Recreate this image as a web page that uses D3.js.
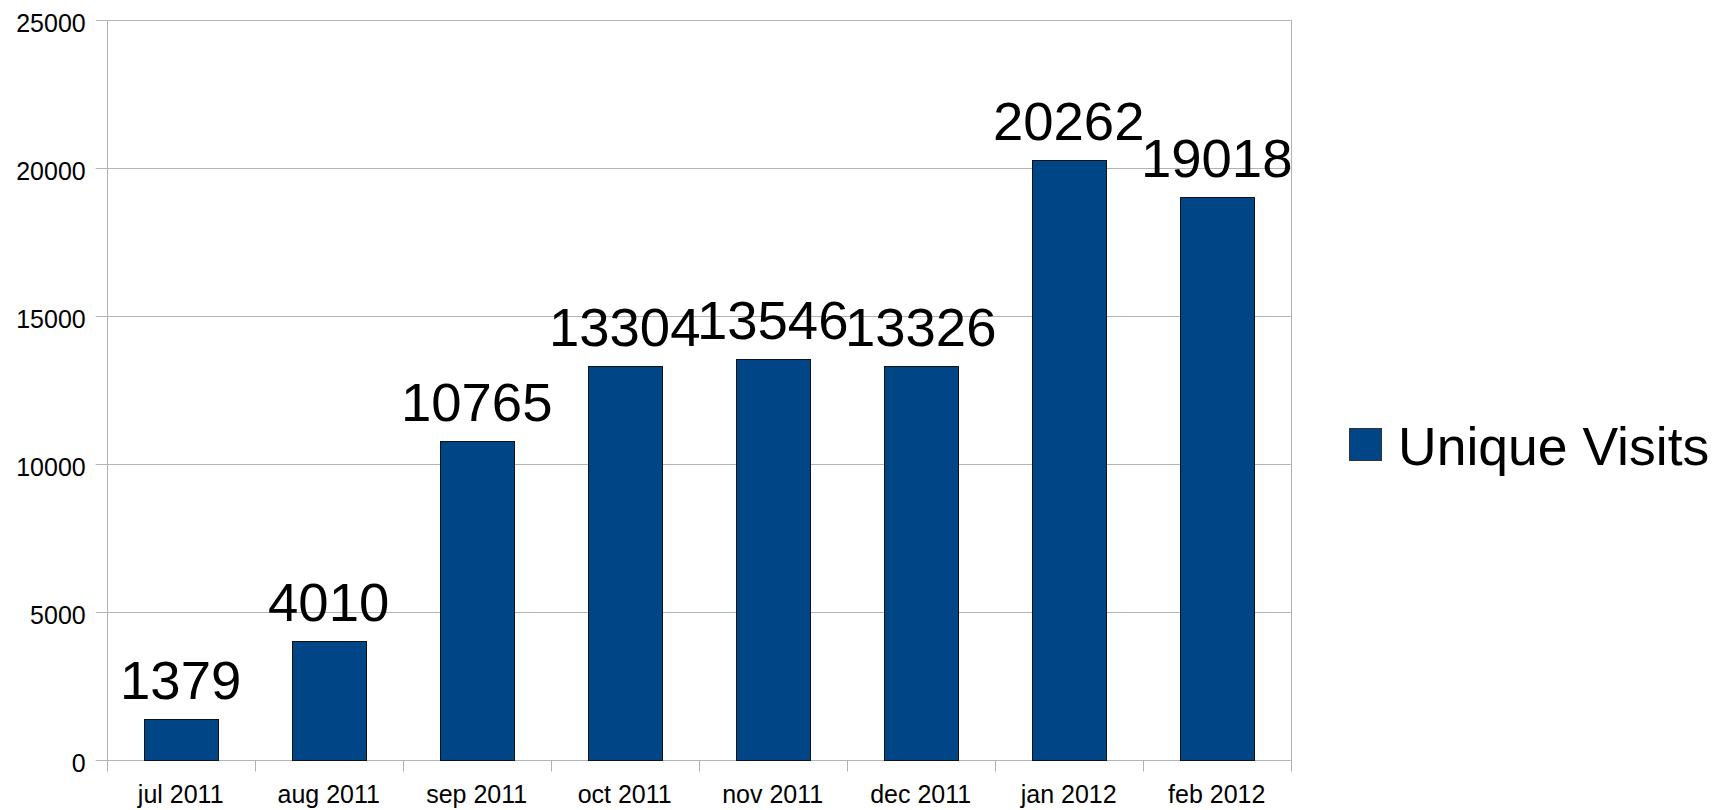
<!DOCTYPE html>
<html>
<head>
<meta charset="utf-8">
<script src="https://cdn.jsdelivr.net/npm/d3@7"></script>
<style>
  html, body { margin: 0; padding: 0; background: #fff; }
  svg { display: block; font-family: "Liberation Sans", Arial, sans-serif; }
</style>
</head>
<body>
<svg id="chart" width="1731" height="810"></svg>
<script>
const categories = ["jul 2011", "aug 2011", "sep 2011", "oct 2011", "nov 2011", "dec 2011", "jan 2012", "feb 2012"];
const uniqueVisits = [1379, 4010, 10765, 13304, 13546, 13326, 20262, 19018];
const yTicks = [0, 5000, 10000, 15000, 20000, 25000];
const seriesName = "Unique Visits";

(function () {
const svg = d3.select("#chart");
const plotL = 106.7, plotR = 1290.7, plotT = 20, plotB = 760;
const gridColor = "#b3b3b3";
const barColor = "#004586";

const x = d3.scaleBand().domain(categories).range([plotL, plotR]).paddingInner(0.5).paddingOuter(0.25);
const y = d3.scaleLinear().domain([0, 25000]).range([plotB, plotT]);

// gridlines
svg.append("g").selectAll("line").data(yTicks).join("line")
  .attr("x1", plotL - 11).attr("x2", plotR)
  .attr("y1", d => Math.round(y(d)) + 0.5).attr("y2", d => Math.round(y(d)) + 0.5)
  .attr("stroke", gridColor).attr("stroke-width", 1);

// y axis
const yAxis = svg.append("g").attr("transform", `translate(${plotL},0)`)
  .call(d3.axisLeft(y).tickValues(yTicks).tickSize(0).tickPadding(21).tickFormat(d3.format("d")));
yAxis.select(".domain").remove();
yAxis.selectAll("text").attr("font-size", 25).attr("font-family", "Liberation Sans, Arial, sans-serif")
  .attr("fill", "#000").attr("dy", "0.44em");

// vertical axis line and right border
svg.append("line").attr("x1", Math.round(plotL) + 0.5).attr("x2", Math.round(plotL) + 0.5)
  .attr("y1", plotT).attr("y2", plotB + 11.5).attr("stroke", gridColor);
svg.append("line").attr("x1", Math.round(plotR) + 0.5).attr("x2", Math.round(plotR) + 0.5)
  .attr("y1", plotT).attr("y2", plotB + 11.5).attr("stroke", gridColor);

// category separators
const step = x.step();
const seps = d3.range(1, categories.length).map(i => x(categories[i]) - x.paddingOuter() * step);
svg.append("g").selectAll("line").data(seps).join("line")
  .attr("x1", d => Math.round(d) + 0.5).attr("x2", d => Math.round(d) + 0.5)
  .attr("y1", plotB).attr("y2", plotB + 11.5).attr("stroke", gridColor);

// x axis labels
const xAxis = svg.append("g").attr("transform", `translate(0,${plotB})`)
  .call(d3.axisBottom(x).tickSize(0));
xAxis.select(".domain").remove();
xAxis.selectAll("text").attr("font-size", 25).attr("font-family", "Liberation Sans, Arial, sans-serif")
  .attr("fill", "#000").attr("y", 43).attr("dy", 0);

// bars
svg.append("g").selectAll("rect").data(uniqueVisits).join("rect")
  .attr("x", (d, i) => Math.round(x(categories[i])) + 0.5)
  .attr("y", d => Math.round(y(d)) + 0.5)
  .attr("width", Math.round(x.bandwidth()))
  .attr("height", d => Math.round(y(0)) - Math.round(y(d)))
  .attr("fill", barColor).attr("stroke", "#111").attr("stroke-width", 1);

// data labels
svg.append("g").selectAll("text").data(uniqueVisits).join("text")
  .attr("x", (d, i) => x(categories[i]) + x.bandwidth() / 2)
  .attr("y", d => y(d) - 20)
  .attr("text-anchor", "middle")
  .attr("font-size", 54.5).attr("fill", "#000")
  .text(d => d);

// legend
svg.append("rect").attr("x", 1349.5).attr("y", 428.5).attr("width", 32).attr("height", 32)
  .attr("fill", barColor).attr("stroke", "#333").attr("stroke-width", 1);
svg.append("text").attr("x", 1398).attr("y", 465).attr("font-size", 53.5).attr("fill", "#000").text(seriesName);
})();
</script>
</body>
</html>
